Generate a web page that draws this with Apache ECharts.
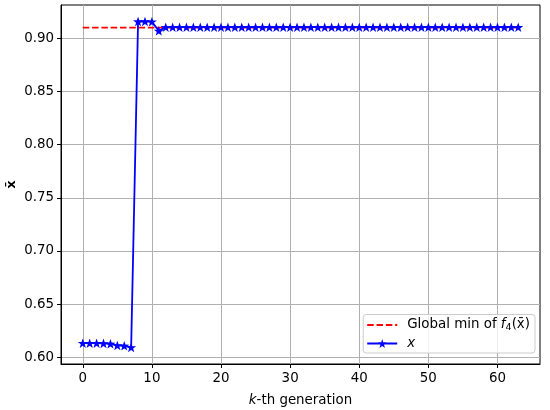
<!DOCTYPE html>
<html>
<head>
<meta charset="utf-8">
<script src="https://cdn.jsdelivr.net/npm/echarts@6/dist/echarts.min.js"></script>
<style>html,body{margin:0;padding:0;background:#fff;}#c{width:550px;height:410px;}</style>
</head>
<body>
<div id="c"></div>
<script>
var generations = [];
for (var i = 0; i < 64; i++) generations.push(i);
var xValues = [0.6133, 0.6133, 0.6133, 0.6131, 0.6127, 0.6112, 0.6108, 0.6093,
  0.9158, 0.9158, 0.9156, 0.9070,
  0.9104, 0.9104, 0.9104, 0.9104, 0.9104, 0.9104, 0.9104, 0.9104, 0.9104, 0.9104,
  0.9104, 0.9104, 0.9104, 0.9104, 0.9104, 0.9104, 0.9104, 0.9104, 0.9104, 0.9104,
  0.9104, 0.9104, 0.9104, 0.9104, 0.9104, 0.9104, 0.9104, 0.9104, 0.9104, 0.9104,
  0.9104, 0.9104, 0.9104, 0.9104, 0.9104, 0.9104, 0.9104, 0.9104, 0.9104, 0.9104,
  0.9104, 0.9104, 0.9104, 0.9104, 0.9104, 0.9104, 0.9104, 0.9104, 0.9104, 0.9104,
  0.9104, 0.9104];
var globalMin = 0.9100;
var xTicks = [0, 10, 20, 30, 40, 50, 60];
var yTicks = [0.60, 0.65, 0.70, 0.75, 0.80, 0.85, 0.90];

var starPath = 'path://M0,-10 L2.35,-3.24 L9.51,-3.09 L3.8,1.24 L5.88,8.09 L0,4 L-5.88,8.09 L-3.8,1.24 L-9.51,-3.09 L-2.35,-3.24 Z';
var font = 'DejaVu Sans';
var fs = 13.4;

var chart = echarts.init(document.getElementById('c'), null, {renderer: 'canvas'});
var option = {
  animation: false,
  backgroundColor: '#fff',
  grid: {left: 61, right: 10, top: 5, bottom: 46, show: true, borderColor: '#000', borderWidth: 1, backgroundColor: 'transparent', containLabel: false, outerBoundsMode: 'none'},
  xAxis: {
    type: 'value', min: -3.15, max: 66.15,
    name: '{i|k}-th generation', nameLocation: 'middle', nameGap: 30,
    nameTextStyle: {fontFamily: font, fontSize: fs, color: '#000', rich: {i: {fontFamily: font, fontSize: fs, fontStyle: 'italic', color: '#000'}}},
    axisLine: {show: true, onZero: false, lineStyle: {color: '#000', width: 1}},
    axisTick: {show: true, length: 4, lineStyle: {color: '#000'}, customValues: xTicks},
    axisLabel: {fontFamily: font, fontSize: fs, color: '#000', margin: 8, customValues: xTicks, formatter: function(v){return String(v);}},
    splitLine: {show: true, lineStyle: {color: '#b0b0b0', width: 1}}
  },
  yAxis: {
    type: 'value', min: 0.5937, max: 0.9313,
    name: 'x\u0304', nameLocation: 'middle', nameGap: 43, nameRotate: 90, nameMoveOverlap: false,
    nameTextStyle: {fontFamily: font, fontSize: 13, fontWeight: 'bold', color: '#000'},
    axisLine: {show: true, onZero: false, lineStyle: {color: '#000', width: 1}},
    axisTick: {show: true, length: 4, lineStyle: {color: '#000'}, customValues: yTicks},
    axisLabel: {fontFamily: font, fontSize: fs, color: '#000', margin: 7, customValues: yTicks, formatter: function(v){return v.toFixed(2);}},
    splitLine: {show: true, lineStyle: {color: '#b0b0b0', width: 1}}
  },
  legend: {
    orient: 'vertical', right: 15, bottom: 57,
    padding: [4, 5, 3, 3], itemGap: 4, itemWidth: 30, itemHeight: 11,
    backgroundColor: 'rgba(255,255,255,0.8)', borderColor: '#cccccc', borderWidth: 1, borderRadius: 3,
    textStyle: {fontFamily: font, fontSize: fs, color: '#000', padding: [0, 0, 0, 5],
      rich: {i: {fontFamily: font, fontSize: fs, fontStyle: 'italic', color: '#000'},
             s: {fontFamily: font, fontSize: 9.5, color: '#000', padding: [6, 0, 0, 0]}}},
    data: [
      {name: 'global', itemStyle: {opacity: 0}},
      {name: 'x'}
    ],
    formatter: function(name){
      if (name === 'global') return 'Global min of {i|f}{s|4}(x\u0304)';
      return '{i|x}';
    }
  },
  series: [
    {
      name: 'global', type: 'line', z: 2,
      data: generations.map(function(g){return [g, globalMin];}),
      showSymbol: false, symbol: 'none',
      lineStyle: {color: '#ff0000', width: 1.8, type: [6.5, 2.8]},
      itemStyle: {color: '#ff0000'}
    },
    {
      name: 'x', type: 'line', z: 3,
      data: generations.map(function(g, i){return [g, xValues[i]];}),
      symbol: starPath, symbolSize: 10, symbolKeepAspect: true, showSymbol: true,
      lineStyle: {color: '#0000ff', width: 1.8},
      itemStyle: {color: '#0000ff'}
    }
  ]
};
chart.setOption(option);
</script>
</body>
</html>
